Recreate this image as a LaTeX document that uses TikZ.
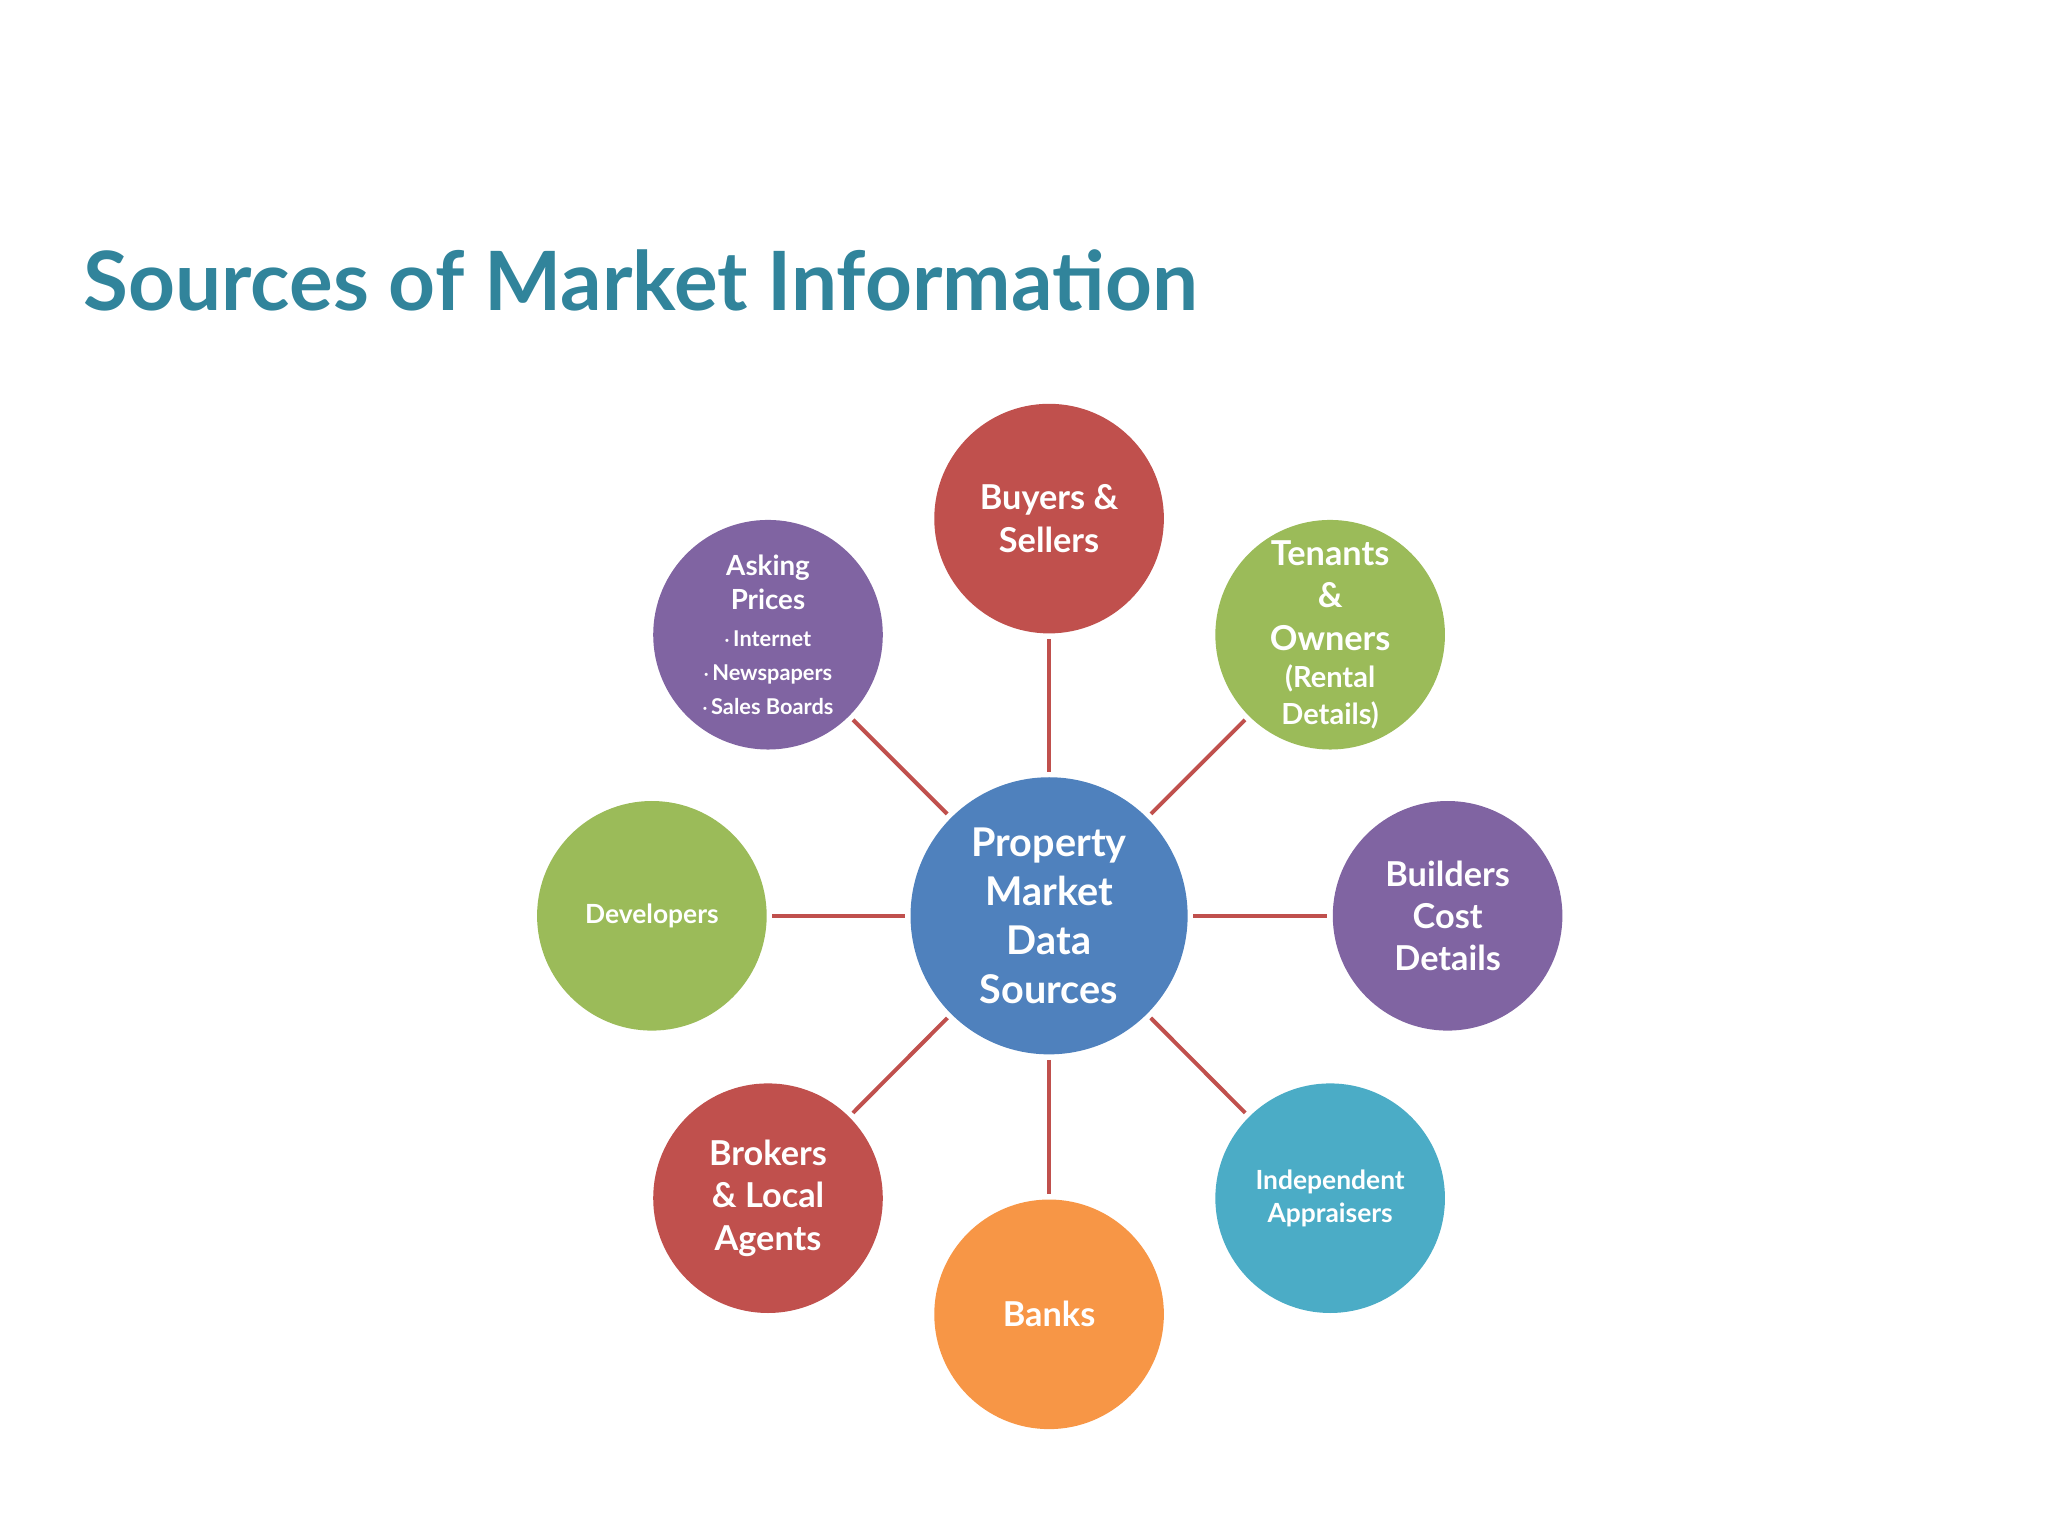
\documentclass[tikz,border=0pt]{standalone}
\usepackage{fontspec}
\setmainfont{Lato}
\definecolor{cred}{HTML}{C0504D}
\definecolor{cgreen}{HTML}{9BBB59}
\definecolor{cpurple}{HTML}{8064A2}
\definecolor{cblue}{HTML}{4F81BD}
\definecolor{caqua}{HTML}{4BACC6}
\definecolor{corange}{HTML}{F79646}
\definecolor{ctitle}{HTML}{31849B}
\begin{document}
\begin{tikzpicture}[x=1pt,y=-1pt,
  bub/.style={circle,minimum size=174pt,inner sep=0pt,text=white,font=\bfseries,align=center,fill=#1},
  link/.style={draw=cred,line width=3pt,shorten <=4pt,shorten >=4pt}]
\useasboundingbox (0,0) rectangle (1552,1164);
\node[anchor=base west,text=ctitle,font=\bfseries\fontsize{62}{70}\selectfont,inner sep=0pt] (title) at (63,235) {Sources of Market Information};
\node[bub=cblue,minimum size=210pt,font=\bfseries\fontsize{30}{37}\selectfont] (c) at (795,694) {Property\\Market\\Data\\Sources};
\node[bub=cred,font=\bfseries\fontsize{26}{32}\selectfont] (bs) at (795,393) {Buyers \&\\Sellers};
\node[bub=cgreen,font=\bfseries\fontsize{26}{32}\selectfont] (to) at (1008,481) {Tenants\\\&\\Owners\\[-4pt]{\fontsize{22}{27}\selectfont(Rental}\\[-4pt]{\fontsize{22}{27}\selectfont Details)}};
\node[bub=cpurple,font=\bfseries\fontsize{26}{32}\selectfont] (bu) at (1097,694) {Builders\\Cost\\Details};
\node[bub=caqua,font=\bfseries\fontsize{20}{25}\selectfont] (ia) at (1008,908) {Independent\\Appraisers};
\node[bub=corange,font=\bfseries\fontsize{26}{32}\selectfont] (ba) at (795,996) {Banks};
\node[bub=cred,font=\bfseries\fontsize{26}{32}\selectfont] (br) at (582,908) {Brokers\\\& Local\\Agents};
\node[bub=cgreen,font=\bfseries\fontsize{20}{25}\selectfont] (de) at (494,694) {Developers};
\node[bub=cpurple,font=\bfseries\fontsize{21}{26}\selectfont] (ap) at (582,481) {Asking\\Prices\\[2pt]{\fontsize{16.5}{24}\selectfont\raisebox{3pt}{\tiny$\bullet$}\,Internet}\\{\fontsize{16.5}{24}\selectfont\raisebox{3pt}{\tiny$\bullet$}\,Newspapers}\\{\fontsize{16.5}{24}\selectfont\raisebox{3pt}{\tiny$\bullet$}\,Sales Boards}};
\foreach \n in {bs,to,bu,ia,ba,br,de,ap} \draw[link] (c) -- (\n);
\end{tikzpicture}
\end{document}
